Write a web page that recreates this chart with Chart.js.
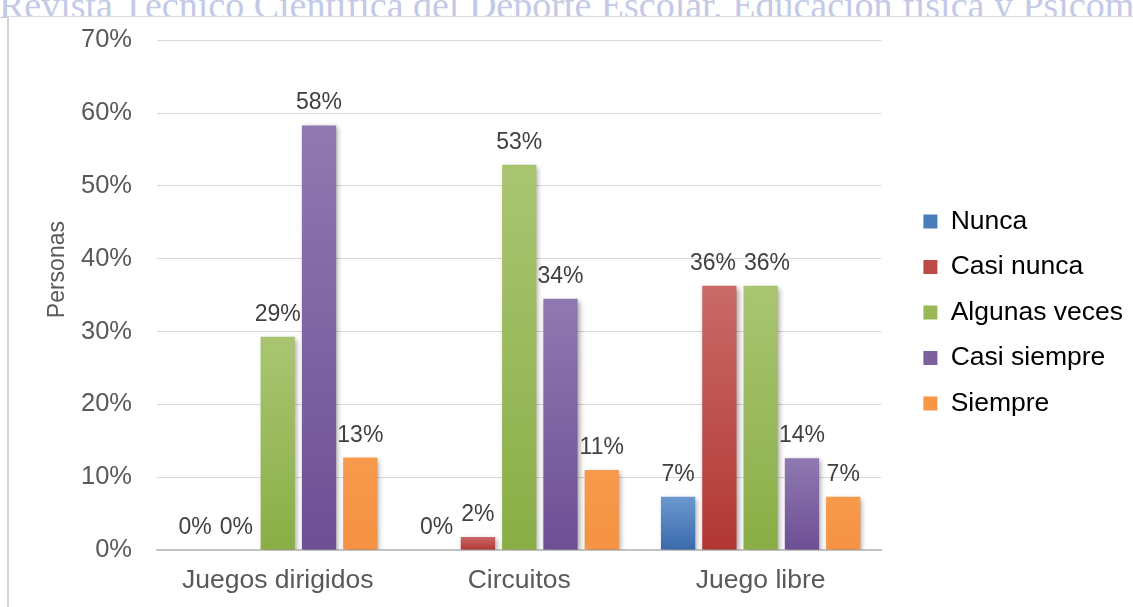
<!DOCTYPE html>
<html lang="es">
<head>
<meta charset="utf-8">
<title>Personas por tipo de actividad</title>
<script src="https://cdn.jsdelivr.net/npm/chart.js@4.4.1/dist/chart.umd.min.js"></script>
<style>
    html, body { margin: 0; padding: 0; background: #fff; overflow: hidden; }
    #page { position: relative; width: 1133px; height: 607px; overflow: hidden; }
    #watermark {
        position: absolute; left: -1px; top: -14px;
        font: 38px/38px 'Liberation Serif', 'Times New Roman', serif;
        color: #c3c9e6; white-space: nowrap;
    }
    #frame {
        position: absolute; left: 7px; top: 16px; width: 1200px; height: 700px;
        background: #fff; border-left: 2px solid #d4d4d4; border-top: 1px solid #dcdcdc;
    }
    #chart { position: absolute; left: 0; top: 0; }
</style>
</head>
<body>
<div id="page">
    <div id="watermark">Revista Técnico Científica del Deporte Escolar, Educación física y Psicomotricidad</div>
    <div id="frame"></div>
    <canvas id="chart" width="1133" height="607"></canvas>
</div>
<script>
// Datos
const categories = ['Juegos dirigidos', 'Circuitos', 'Juego libre'];
const seriesNames = ['Nunca', 'Casi nunca', 'Algunas veces', 'Casi siempre', 'Siempre'];

const nunca = [0, 0, 7.3];
const casiNunca = [0, 1.8, 36.3];
const algunasVeces = [29.3, 52.9, 36.3];
const casiSiempre = [58.3, 34.5, 12.6];
const siempre = [12.7, 11, 7.3];

// Etiquetas tal como aparecen encima de las barras
const nuncaLabels = ['0%', '0%', '7%'];
const casiNuncaLabels = ['0%', '2%', '36%'];
const algunasVecesLabels = ['29%', '53%', '36%'];
const casiSiempreLabels = ['58%', '34%', '14%'];
const siempreLabels = ['13%', '11%', '7%'];

const yTicks = [0, 10, 20, 30, 40, 50, 60, 70];

const seriesValues = [nunca, casiNunca, algunasVeces, casiSiempre, siempre];
const seriesLabels = [nuncaLabels, casiNuncaLabels, algunasVecesLabels, casiSiempreLabels, siempreLabels];

// Colores: sólido (leyenda), claro arriba, oscuro abajo
const seriesColors = ['#4a7ebb', '#be4b48', '#98b954', '#7d60a0', '#f79646'];
const topColors = ['#6b98cf', '#c96a67', '#a9c572', '#9079b1', '#f79a4c'];
const bottomColors = ['#3a6aac', '#b23734', '#8aae46', '#6d4f94', '#f59243'];

const FONT = "'Liberation Sans', Arial, sans-serif";
const LABEL_SIZE = 23;
Chart.defaults.font.family = FONT;
Chart.defaults.color = '#595959';

/**
 * Degradado vertical por barra
 */
const barGradient = (i) => (ctx) => {
    const chart = ctx.chart;
    if (!chart.chartArea || ctx.type !== 'data') return seriesColors[i];
    const y = chart.scales.y;
    const top = y.getPixelForValue(ctx.raw);
    const base = y.getPixelForValue(0);
    if (base - top < 1) return seriesColors[i];
    const g = chart.ctx.createLinearGradient(0, top, 0, base);
    g.addColorStop(0, topColors[i]);
    g.addColorStop(1, bottomColors[i]);
    return g;
};

// Sombra de las barras y etiquetas de valor
const barDecor = {
    id: 'barDecor',
    beforeDatasetsDraw(chart) {
        const c = chart.ctx;
        c.save();
        c.shadowColor = 'rgba(0,0,0,0.35)';
        c.shadowBlur = 5;
        c.shadowOffsetX = 2;
        c.shadowOffsetY = 2;
    },
    afterDatasetsDraw(chart) {
        const c = chart.ctx;
        c.restore();
        c.save();
        c.font = LABEL_SIZE + 'px ' + FONT;
        c.fillStyle = '#404040';
        c.textAlign = 'center';
        c.textBaseline = 'alphabetic';

        categories.forEach((_, i) => {
            // etiquetas de una categoría, de izquierda a derecha
            const items = chart.data.datasets.map((ds, di) => {
                const el = chart.getDatasetMeta(di).data[i];
                const text = seriesLabels[di][i];
                return { text, x: el.x, y: el.y - 16, w: c.measureText(text).width };
            });
            // separar las etiquetas vecinas que se pisan
            for (let k = 0; k < items.length - 1; k++) {
                const a = items[k];
                const b = items[k + 1];
                if (Math.abs(a.y - b.y) >= LABEL_SIZE) continue;
                const overlap = a.w / 2 + b.w / 2 + 8 - (b.x - a.x);
                if (overlap > 0) {
                    a.x -= overlap / 2;
                    b.x += overlap / 2;
                }
            }
            items.forEach((it) => c.fillText(it.text, it.x, it.y));
        });
        c.restore();
    }
};

// Espacio entre el área del gráfico y la leyenda
const LEGEND_GAP = 23;
const legendGap = {
    id: 'legendGap',
    beforeLayout(chart) {
        const lg = chart.legend;
        if (lg && !lg._gapPatched) {
            const fit = lg.fit.bind(lg);
            lg.fit = function () {
                fit();
                this.width += LEGEND_GAP;
            };
            lg._gapPatched = true;
        }
    },
    afterLayout(chart) {
        const lg = chart.legend;
        if (!lg) return;
        lg.left += LEGEND_GAP;
        lg.top = 25;
        lg.height = lg.bottom - lg.top;
    }
};

new Chart(document.getElementById('chart'), {
    type: 'bar',
    data: {
        labels: categories,
        datasets: seriesNames.map((name, i) => ({
            label: name,
            data: seriesValues[i],
            backgroundColor: barGradient(i),
            borderWidth: 0,
            barPercentage: 0.83,
            categoryPercentage: 0.855
        }))
    },
    options: {
        responsive: false,
        animation: false,
        layout: { padding: { top: 38, bottom: 7, left: 40, right: 0 } },
        plugins: {
            tooltip: { enabled: false },
            legend: {
                position: 'right',
                labels: {
                    boxWidth: 14,
                    boxHeight: 14,
                    padding: 19,
                    color: '#404040',
                    font: { size: 26.5 },
                    generateLabels: () => seriesNames.map((name, i) => ({
                        text: name,
                        fillStyle: seriesColors[i],
                        strokeStyle: seriesColors[i],
                        lineWidth: 0,
                        datasetIndex: i
                    }))
                }
            }
        },
        scales: {
            x: {
                grid: { display: false, drawTicks: false },
                border: { display: true, color: '#c4c4c4', width: 2 },
                ticks: { padding: 15, color: '#595959', font: { size: 26.5 } },
                afterFit: (s) => { s.height = 50; }
            },
            y: {
                min: 0,
                max: 70,
                afterBuildTicks: (s) => { s.ticks = yTicks.map((v) => ({ value: v })); },
                grid: { color: '#d9d9d9', lineWidth: 1, drawTicks: false },
                border: { display: false },
                ticks: {
                    padding: 25,
                    color: '#595959',
                    font: { size: 25.5 },
                    callback: (v) => v + '%'
                },
                title: {
                    display: true,
                    text: '        Personas',
                    color: '#595959',
                    font: { size: 23 },
                    padding: { top: 4, bottom: 14 }
                },
                afterFit: (s) => { s.width = 117; }
            }
        }
    },
    plugins: [barDecor, legendGap]
});
</script>
</body>
</html>
